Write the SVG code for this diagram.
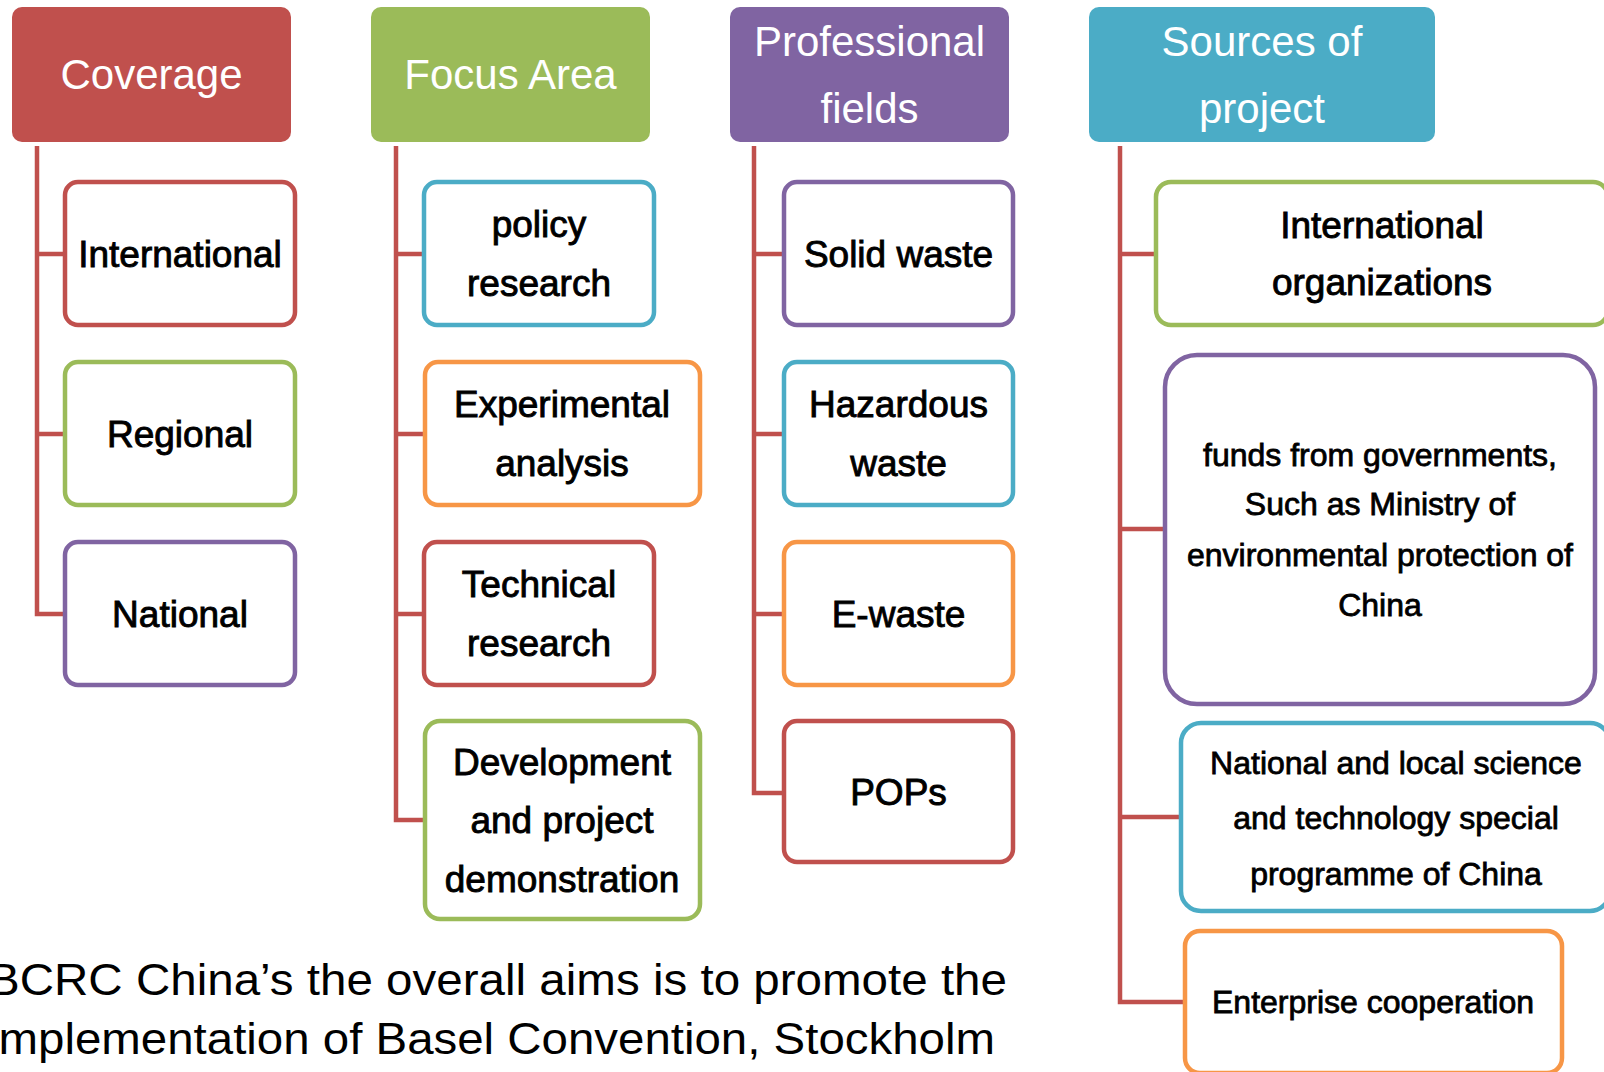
<svg xmlns="http://www.w3.org/2000/svg" width="1604" height="1072" viewBox="0 0 1604 1072">
<style>
.hdr{stroke:none}
.box{fill:#fff;stroke-width:4.5}
.ht{font-family:"Liberation Sans",Arial,sans-serif;font-size:42px;fill:#fff;text-anchor:middle}
.bt{font-family:"Liberation Sans",Arial,sans-serif;font-size:37px;fill:#000;stroke:#000;stroke-width:0.9;text-anchor:middle}
.st{font-family:"Liberation Sans",Arial,sans-serif;font-size:32px;fill:#000;stroke:#000;stroke-width:0.8;text-anchor:middle}
.para{font-family:"Liberation Sans",Arial,sans-serif;font-size:44px;fill:#000}
.conn{fill:none;stroke:#C0504D;stroke-width:4.5}
.red{stroke:#C0504D}.green{stroke:#9BBB59}.purple{stroke:#8064A2}.blue{stroke:#4BACC6}.orange{stroke:#F79646}
</style>
<rect width="1604" height="1072" fill="#fff"/>
<g id="connectors">
<path class="conn" d="M37 146 V614 H63 M37 254 H63 M37 434 H63"/>
<path class="conn" d="M396 146 V820 H424 M396 254 H422 M396 434 H423 M396 614 H422"/>
<path class="conn" d="M754 146 V793 H782 M754 254 H782 M754 434 H782 M754 614 H782"/>
<path class="conn" d="M1120 146 V1002 H1183 M1120 254 H1154 M1120 529 H1163 M1120 817 H1179"/>
</g>
<g id="hdr-coverage"><rect class="hdr" x="12" y="7" width="279" height="135" rx="10" fill="#C0504D"/><text class="ht" x="151.5" y="89">Coverage</text></g>
<g id="hdr-focus"><rect class="hdr" x="371" y="7" width="279" height="135" rx="10" fill="#9BBB59"/><text class="ht" x="510.5" y="89">Focus Area</text></g>
<g id="hdr-professional"><rect class="hdr" x="730" y="7" width="279" height="135" rx="10" fill="#8064A2"/><text class="ht" x="869.5" y="56">Professional</text><text class="ht" x="869.5" y="123">fields</text></g>
<g id="hdr-sources"><rect class="hdr" x="1089" y="7" width="346" height="135" rx="10" fill="#4BACC6"/><text class="ht" x="1262" y="56">Sources of</text><text class="ht" x="1262" y="123">project</text></g>

<g id="cov-international"><rect class="box red" x="65" y="182" width="230" height="143" rx="13"/><text class="bt" x="180" y="267">International</text></g>
<g id="cov-regional"><rect class="box green" x="65" y="362" width="230" height="143" rx="13"/><text class="bt" x="180" y="447">Regional</text></g>
<g id="cov-national"><rect class="box purple" x="65" y="542" width="230" height="143" rx="13"/><text class="bt" x="180" y="627">National</text></g>

<g id="foc-policy"><rect class="box blue" x="424" y="182" width="230" height="143" rx="13"/><text class="bt" x="539" y="237">policy</text><text class="bt" x="539" y="296">research</text></g>
<g id="foc-experimental"><rect class="box orange" x="425" y="362" width="275" height="143" rx="13"/><text class="bt" x="562" y="417">Experimental</text><text class="bt" x="562" y="476">analysis</text></g>
<g id="foc-technical"><rect class="box red" x="424" y="542" width="230" height="143" rx="13"/><text class="bt" x="539" y="597">Technical</text><text class="bt" x="539" y="656">research</text></g>
<g id="foc-development"><rect class="box green" x="425" y="721" width="275" height="198" rx="15"/><text class="bt" x="562" y="775">Development</text><text class="bt" x="562" y="833">and project</text><text class="bt" x="562" y="892">demonstration</text></g>

<g id="pro-solid"><rect class="box purple" x="784" y="182" width="229" height="143" rx="13"/><text class="bt" x="898.5" y="267">Solid waste</text></g>
<g id="pro-hazardous"><rect class="box blue" x="784" y="362" width="229" height="143" rx="13"/><text class="bt" x="898.5" y="417">Hazardous</text><text class="bt" x="898.5" y="476">waste</text></g>
<g id="pro-ewaste"><rect class="box orange" x="784" y="542" width="229" height="143" rx="13"/><text class="bt" x="898.5" y="627">E-waste</text></g>
<g id="pro-pops"><rect class="box red" x="784" y="721" width="229" height="141" rx="13"/><text class="bt" x="898.5" y="805">POPs</text></g>

<g id="src-intl"><rect class="box green" x="1156" y="182" width="452" height="143" rx="15"/><text class="bt" x="1382" y="238">International</text><text class="bt" x="1382" y="295">organizations</text></g>
<g id="src-funds"><rect class="box purple" x="1165" y="355" width="430" height="349" rx="32"/><text class="st" x="1380" y="466">funds from governments,</text><text class="st" x="1380" y="515">Such as Ministry of</text><text class="st" x="1380" y="566">environmental protection of</text><text class="st" x="1380" y="616">China</text></g>
<g id="src-national"><rect class="box blue" x="1181" y="723" width="429" height="188" rx="20"/><text class="st" x="1396" y="774">National and local science</text><text class="st" x="1396" y="829">and technology special</text><text class="st" x="1396" y="885">programme of China</text></g>
<g id="src-enterprise"><rect class="box orange" x="1185" y="931" width="377" height="142" rx="15"/><text class="st" x="1373" y="1013">Enterprise cooperation</text></g>

<text class="para" x="-12" y="995" textLength="1019" lengthAdjust="spacingAndGlyphs">BCRC China’s the overall aims is to promote the</text>
<text class="para" x="-12" y="1054" textLength="1007" lengthAdjust="spacingAndGlyphs">implementation of Basel Convention, Stockholm</text>
</svg>
